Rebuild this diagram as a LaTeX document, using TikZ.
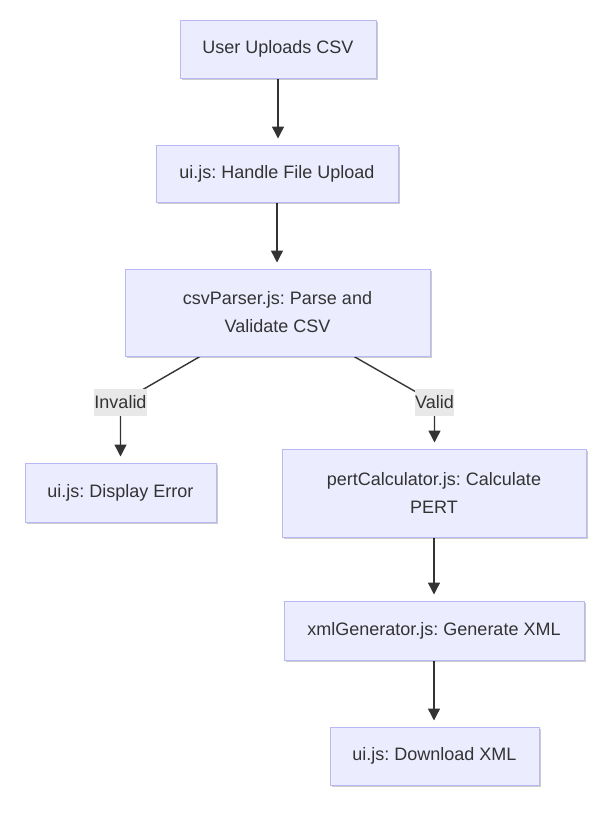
\documentclass[tikz,border=0pt]{standalone}
\usepackage{fontspec}
\setmainfont{Liberation Sans}
\usetikzlibrary{arrows.meta,shadows}
\definecolor{boxfill}{HTML}{ECECFF}
\definecolor{boxline}{HTML}{B8B8F2}
\definecolor{txt}{HTML}{333333}
\definecolor{lblbg}{HTML}{E8E8E8}
\definecolor{edgecol}{HTML}{333333}
\pgfdeclarelayer{bg}
\pgfsetlayers{bg,main}
\frenchspacing
\begin{document}
\begin{tikzpicture}[x=1pt,y=-1pt,
  box/.style={draw=boxline, fill=boxfill, line width=1pt, text=txt,
    font=\fontsize{18}{28}\selectfont, align=center, inner sep=0pt,
    drop shadow={shadow xshift=2pt, shadow yshift=-2pt, opacity=0.2, fill=black}},
  lbl/.style={fill=lblbg, text=txt, font=\fontsize{18}{22}\selectfont,
    inner sep=0pt, minimum height=27pt},
  edge/.style={draw=edgecol, line width=1.4pt,
    -{Triangle[length=12pt,width=12pt]}, shorten >=6pt}
]
\useasboundingbox (0,0) rectangle (615,825);

\node[box, minimum width=196pt, minimum height=58pt] (n1) at (278,49) {User Uploads CSV};
\node[box, minimum width=242pt, minimum height=57pt] (n2) at (277,173.5) {ui.js: Handle File Upload};
\node[box, minimum width=305pt, minimum height=87pt] (n3) at (277.5,312.5) {csvParser.js: Parse and\\Validate CSV};
\node[box, minimum width=191pt, minimum height=59pt] (n4) at (120.5,492.5) {ui.js: Display Error};
\node[box, minimum width=304pt, minimum height=88pt] (n5) at (434,493) {pertCalculator.js: Calculate\\PERT};
\node[box, minimum width=300pt, minimum height=59pt] (n6) at (434,630.5) {xmlGenerator.js: Generate XML};
\node[box, minimum width=209pt, minimum height=58pt] (n7) at (434.5,756) {ui.js: Download XML};

\node[lbl, minimum width=53pt] (l1) at (120.5,402.5) {Invalid};
\node[lbl, minimum width=39pt] (l2) at (434.5,402.5) {Valid};

\begin{pgfonlayer}{bg}
\fill[white] (0,0) rectangle (615,825);
\draw[edge] (n1.south) -- (n1.south |- n2.north);
\draw[edge] (n2.south) -- (n2.south |- n3.north);
\draw[edge] ([xshift=-77.5pt]n3.south) -- (l1.center) -- (l1.center |- n4.north);
\draw[edge] ([xshift=76.5pt]n3.south) -- (l2.center) -- (l2.center |- n5.north);
\draw[edge] (n5.south) -- (n5.south |- n6.north);
\draw[edge] (n6.south) -- (n6.south |- n7.north);
\end{pgfonlayer}
\end{tikzpicture}
\end{document}
